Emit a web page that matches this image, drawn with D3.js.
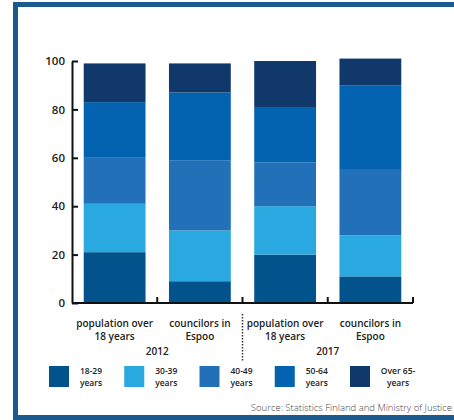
<!DOCTYPE html>
<html>
<head>
<meta charset="utf-8">
<script src="https://cdn.jsdelivr.net/npm/d3@7"></script>
<style>
  html, body { margin: 0; padding: 0; background: #fff; }
  svg { display: block; font-family: "Open Sans", sans-serif; }
</style>
</head>
<body>
<svg id="chart" width="454" height="420"></svg>
<script>
// Age structure (%) of Espoo's adult population and of its councillors
const categories = ["pop2012", "coun2012", "pop2017", "coun2017"];
const categoryLines = [
  ["population over", "18 years"],
  ["councilors in", "Espoo"],
  ["population over", "18 years"],
  ["councilors in", "Espoo"]
];
const yearLabels = ["2012", "2017"];
const ageGroups = ["18-29", "30-39", "40-49", "50-64", "65+"];
const legendLines = [
  ["18-29", "years"],
  ["30-39", "years"],
  ["40-49", "years"],
  ["50-64", "years"],
  ["Over 65-", "years"]
];
const age18to29 = [21, 9, 20, 11];
const age30to39 = [20, 21, 20, 17];
const age40to49 = [19, 29, 18, 27];
const age50to64 = [23, 28, 23, 35];
const age65plus = [16, 12, 19, 11];
const yTicks = [0, 20, 40, 60, 80, 100];
const sourceText = "Source: Statistics Finland and Ministry of Justice";

const colors = ["#02528c", "#2aa8e0", "#2170b8", "#0463b0", "#11386a"];

const rows = categories.map((c, i) => ({
  cat: c,
  "18-29": age18to29[i],
  "30-39": age30to39[i],
  "40-49": age40to49[i],
  "50-64": age50to64[i],
  "65+": age65plus[i]
}));
const stacked = d3.stack().keys(ageGroups)(rows);

const svg = d3.select("#chart");

// outer frame (right edge runs past the page)
svg.append("rect")
  .attr("x", 15.5).attr("y", 4.5)
  .attr("width", 460).attr("height", 413)
  .attr("fill", "#fff")
  .attr("stroke", "#1a5a8f")
  .attr("stroke-width", 5);

const x = d3.scaleBand()
  .domain(categories)
  .range([72, 413])
  .paddingInner(0.275)
  .paddingOuter(0.1375);

const y = d3.scaleLinear().domain([0, 100]).range([303, 61]);
const color = d3.scaleOrdinal().domain(ageGroups).range(colors);

// stacked bars
svg.append("g")
  .selectAll("g")
  .data(stacked)
  .join("g")
  .attr("fill", d => color(d.key))
  .selectAll("rect")
  .data(d => d)
  .join("rect")
  .attr("x", d => x(d.data.cat))
  .attr("width", x.bandwidth())
  .attr("y", d => y(d[1]))
  .attr("height", d => y(d[0]) - y(d[1]));

// y axis with inward ticks
const yAxis = svg.append("g")
  .attr("transform", "translate(72,0)")
  .call(d3.axisLeft(y).tickValues(yTicks).tickSizeInner(-6).tickSizeOuter(0).tickPadding(7));
yAxis.select(".domain").attr("stroke", "#111").attr("stroke-width", 2);
yAxis.selectAll(".tick line").attr("stroke", "#111").attr("stroke-width", 2);
yAxis.selectAll(".tick text")
  .attr("fill", "#222")
  .style("font-size", "11.5px")
  .style("font-family", "'Open Sans', sans-serif")
  .style("font-weight", 600);

// x baseline with upward ticks between the bars
const halfGap = x.step() * x.paddingInner() / 2;
const bounds = categories.map(c => x(c) + x.bandwidth() + halfGap);
svg.append("line")
  .attr("x1", 72).attr("x2", bounds[bounds.length - 1])
  .attr("y1", y(0)).attr("y2", y(0))
  .attr("stroke", "#111").attr("stroke-width", 2);
svg.append("g")
  .selectAll("line")
  .data(bounds)
  .join("line")
  .attr("x1", d => d).attr("x2", d => d)
  .attr("y1", y(0)).attr("y2", y(0) - 6)
  .attr("stroke", "#111").attr("stroke-width", 2);

// category labels
const catG = svg.append("g")
  .attr("fill", "#222")
  .style("font-size", "10px")
  .style("font-weight", 600)
  .attr("text-anchor", "middle");
categories.forEach((c, i) => {
  categoryLines[i].forEach((line, j) => {
    catG.append("text")
      .attr("x", x(c) + x.bandwidth() / 2)
      .attr("y", 327 + j * 13)
      .text(line);
  });
});

// year labels centred under each pair
yearLabels.forEach((yr, k) => {
  const a = categories[k * 2], b = categories[k * 2 + 1];
  catG.append("text")
    .attr("x", (x(a) + x(b) + x.bandwidth()) / 2)
    .attr("y", 355)
    .text(yr);
});

// dotted divider between the years
svg.append("line")
  .attr("x1", bounds[1]).attr("x2", bounds[1])
  .attr("y1", 314).attr("y2", 362)
  .attr("stroke", "#333")
  .attr("stroke-width", 1.5)
  .attr("stroke-dasharray", "1.5,1.5");

// legend
const lx = d3.scalePoint().domain(ageGroups).range([49, 350]);
const leg = svg.append("g");
ageGroups.forEach((g, i) => {
  leg.append("rect")
    .attr("x", lx(g)).attr("y", 366)
    .attr("width", 20).attr("height", 21)
    .attr("fill", color(g));
  legendLines[i].forEach((line, j) => {
    leg.append("text")
      .attr("x", lx(g) + 42 + (i === 4 ? 6 : 0))
      .attr("y", 373.5 + j * 12.5)
      .attr("text-anchor", "middle")
      .attr("fill", "#222")
      .style("font-size", "8.5px")
      .style("font-weight", 600)
      .text(line);
  });
});

// source note
svg.append("text")
  .attr("x", 452).attr("y", 411)
  .attr("text-anchor", "end")
  .attr("fill", "#444")
  .style("font-size", "9.5px")
  .style("font-weight", 300)
  .text(sourceText);
</script>
</body>
</html>
